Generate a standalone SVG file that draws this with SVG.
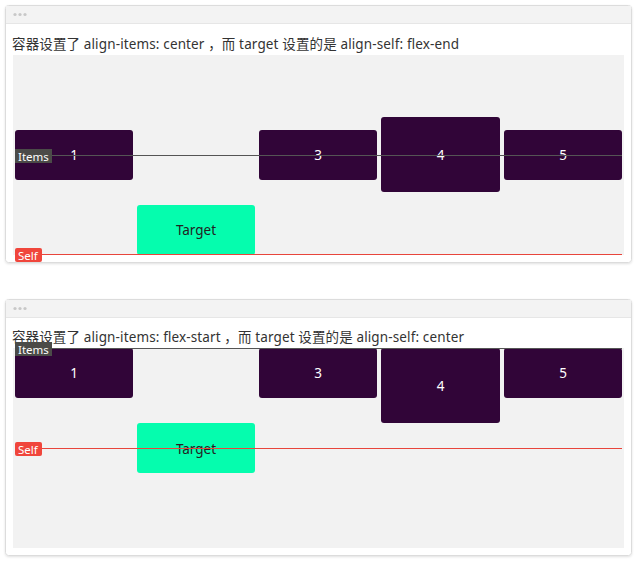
<svg xmlns="http://www.w3.org/2000/svg" width="644" height="569" viewBox="0 0 644 569">
<style>
.card{fill:#fff;stroke:#dcdcdc;stroke-width:1}
.hdr{fill:#f3f3f3}
.dot{fill:#c8c8c8}
.area{fill:#f2f2f2}
.title{font-family:"Noto Sans","Noto Sans CJK SC",sans-serif;font-size:13.5px;fill:#333}
.item{fill:#310538}
.tgt{fill:#05fdae}
.num{font-family:"Noto Sans","Noto Sans CJK SC",sans-serif;font-size:13.5px;fill:#fff;text-anchor:middle}
.tnum{font-family:"Noto Sans",sans-serif;font-size:13.5px;fill:#222;text-anchor:middle}
.lbl{font-family:"Noto Sans",sans-serif;font-size:11.5px;fill:#fff}
.iline{stroke:#555;stroke-width:1}
.sline{stroke:#e8453c;stroke-width:1}
</style>
<defs>
<filter id="sh" x="-5%" y="-5%" width="110%" height="115%"><feDropShadow dx="0" dy="1" stdDeviation="1" flood-color="#000" flood-opacity="0.12"/></filter>
</defs>
<rect width="644" height="569" fill="#fff"/>

<g id="panel1">
<rect class="card" x="5.5" y="5.5" width="626" height="257" rx="3" filter="url(#sh)"/>
<rect class="hdr" x="6" y="6" width="625" height="17"/>
<line x1="6" y1="23.5" x2="631" y2="23.5" stroke="#e6e6e6"/>
<circle class="dot" cx="15" cy="14.5" r="1.6"/><circle class="dot" cx="20" cy="14.5" r="1.6"/><circle class="dot" cx="25" cy="14.5" r="1.6"/>
<text class="title" x="12" y="49" textLength="447" lengthAdjust="spacing">容器设置了 align-items: center ，而 target 设置的是 align-self: flex-end</text>
<rect class="area" x="13" y="55" width="611" height="200"/>
</g>
<g id="p1-item1"><rect class="item" x="15" y="130" width="118" height="50" rx="3"/><text class="num" x="74" y="160">1</text></g>
<g id="p1-target"><rect class="tgt" x="137" y="205" width="118" height="50" rx="3"/><text class="tnum" x="196" y="235">Target</text></g>
<g id="p1-item3"><rect class="item" x="259" y="130" width="118" height="50" rx="3"/><text class="num" x="318" y="160">3</text></g>
<g id="p1-item4"><rect class="item" x="381" y="117" width="119" height="75" rx="3"/><text class="num" x="440.5" y="160">4</text></g>
<g id="p1-item5"><rect class="item" x="504" y="130" width="118" height="50" rx="3"/><text class="num" x="563" y="160">5</text></g>
<g id="p1-lines">
<line class="iline" x1="15" y1="155.5" x2="622" y2="155.5"/>
<line class="sline" x1="15" y1="254.5" x2="622" y2="254.5"/>
</g>
<g id="p1-items-label"><rect x="15" y="149" width="37" height="14" fill="#4b4b48"/><text class="lbl" x="18" y="160.5">Items</text></g>
<g id="p1-self-label"><rect x="15" y="248" width="27" height="14" rx="2" fill="#f0463c"/><text class="lbl" x="18" y="259.5">Self</text></g>

<g id="panel2">
<rect class="card" x="5.5" y="299.5" width="626" height="256" rx="3" filter="url(#sh)"/>
<rect class="hdr" x="6" y="300" width="625" height="17"/>
<line x1="6" y1="317.5" x2="631" y2="317.5" stroke="#e6e6e6"/>
<circle class="dot" cx="15" cy="308.5" r="1.6"/><circle class="dot" cx="20" cy="308.5" r="1.6"/><circle class="dot" cx="25" cy="308.5" r="1.6"/>
<rect class="area" x="13" y="348" width="611" height="200"/>
<text class="title" x="12" y="342" textLength="452" lengthAdjust="spacing">容器设置了 align-items: flex-start ，而 target 设置的是 align-self: center</text>
</g>
<g id="p2-item1"><rect class="item" x="15" y="348" width="118" height="50" rx="3"/><text class="num" x="74" y="378">1</text></g>
<g id="p2-target"><rect class="tgt" x="137" y="423" width="118" height="50" rx="3"/><text class="tnum" x="196" y="454">Target</text></g>
<g id="p2-item3"><rect class="item" x="259" y="348" width="118" height="50" rx="3"/><text class="num" x="318" y="378">3</text></g>
<g id="p2-item4"><rect class="item" x="381" y="348" width="119" height="75" rx="3"/><text class="num" x="440.5" y="391">4</text></g>
<g id="p2-item5"><rect class="item" x="504" y="348" width="118" height="50" rx="3"/><text class="num" x="563" y="378">5</text></g>
<g id="p2-lines">
<line class="iline" x1="15" y1="348.5" x2="622" y2="348.5"/>
<line class="sline" x1="15" y1="448.5" x2="622" y2="448.5"/>
</g>
<g id="p2-items-label"><rect x="15" y="342" width="37" height="14" fill="#4b4b48"/><text class="lbl" x="18" y="353.5">Items</text></g>
<g id="p2-self-label"><rect x="15" y="442" width="27" height="14" rx="2" fill="#f0463c"/><text class="lbl" x="18" y="453.5">Self</text></g>
</svg>
